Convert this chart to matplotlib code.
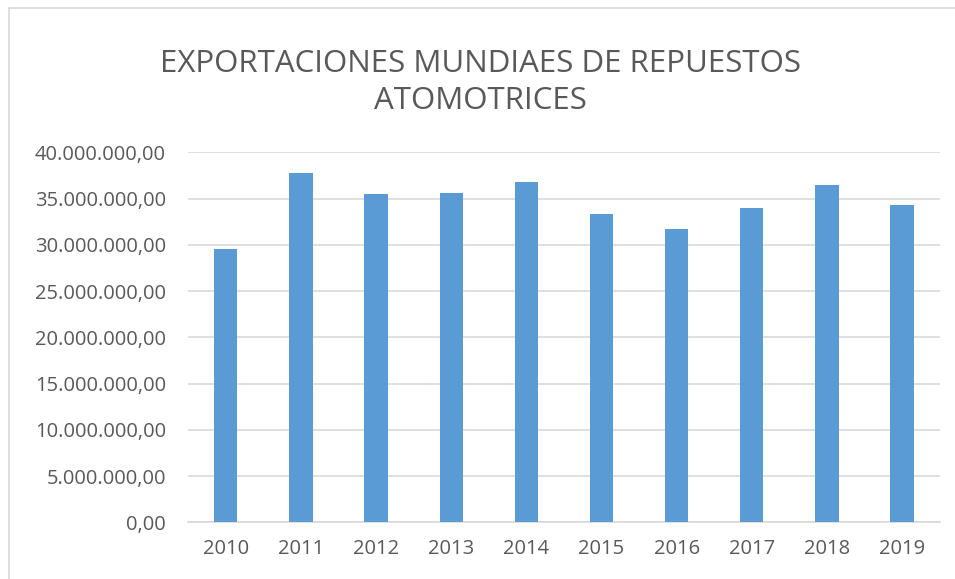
import matplotlib.pyplot as plt
from matplotlib.patches import Rectangle
from matplotlib.ticker import FuncFormatter

# years and exports
years = ['2010', '2011', '2012', '2013', '2014', '2015', '2016', '2017', '2018', '2019']
exports = [29550000, 37770000, 35500000, 35600000, 36800000,
           33330000, 31700000, 33980000, 36430000, 34260000]

plt.rcParams['font.family'] = ['Open Sans', 'DejaVu Sans']

fig = plt.figure(figsize=(9.55, 5.79), dpi=100)
ax = fig.add_axes([0.197, 0.098, 0.787, 0.639])

ax.bar(range(len(years)), exports, width=0.31, color='#5B9BD5', zorder=3)

ax.set_ylim(0, 40000000)
ax.set_xlim(-0.5, len(years) - 0.5)
ax.set_yticks(range(0, 40000001, 5000000))
ax.set_xticks(range(len(years)))
ax.set_xticklabels(years)

# spanish style number format: 40.000.000,00
def fmt(v, pos):
    s = '{:,.2f}'.format(v)
    return s.replace(',', 'X').replace('.', ',').replace('X', '.')
ax.yaxis.set_major_formatter(FuncFormatter(fmt))

ax.grid(axis='y', color='#D9D9D9', linewidth=1.2, zorder=0)
for s in ['top', 'right', 'left']:
    ax.spines[s].set_visible(False)
ax.spines['bottom'].set_color('#D9D9D9')
ax.spines['bottom'].set_linewidth(1.2)
ax.tick_params(length=0, labelsize=14.5, colors='#595959')
ax.tick_params(axis='y', pad=16)
ax.tick_params(axis='x', pad=12)

fig.text(0.503, 0.857, 'EXPORTACIONES MUNDIAES DE REPUESTOS\nATOMOTRICES',
         ha='center', va='center', fontsize=22.5, color='#595959',
         linespacing=1.3)

# chart frame
fig.patches.append(Rectangle((0.009, -0.01), 1.0, 0.997, transform=fig.transFigure,
                             fill=False, edgecolor='#D9D9D9', linewidth=1.2))

fig.savefig('out.png', dpi=100)
